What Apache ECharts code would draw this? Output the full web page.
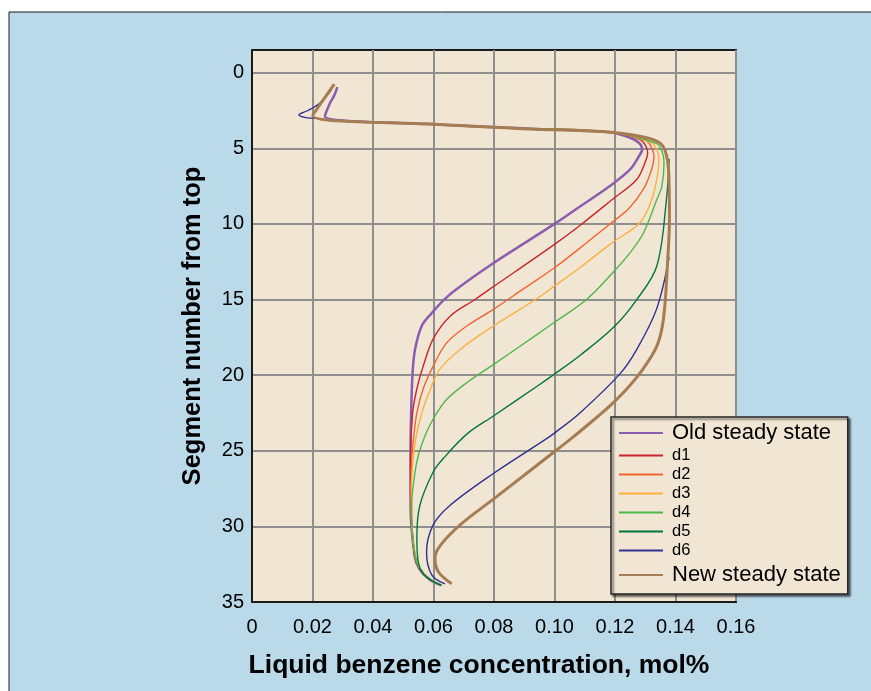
<!DOCTYPE html>
<html>
<head>
<meta charset="utf-8">
<title>Liquid benzene concentration profile</title>
<script src="https://cdn.jsdelivr.net/npm/echarts@6/dist/echarts.min.js"></script>
<style>
    html, body { margin: 0; padding: 0; background: #ffffff; }
    #profile_echart { width: 871px; height: 691px; }
</style>
</head>
<body>
<div id="profile_echart"></div>
<script>
// 曲线名称（图例顺序）
var seriesNames = ['Old steady state', 'd1', 'd2', 'd3', 'd4', 'd5', 'd6', 'New steady state'];
var seriesColors = ['#8b5db0', '#c9252c', '#f26430', '#fbb040', '#4db848', '#00773d', '#2e3092', '#a67c52'];

// 刻度
var xTicks = [0, 0.02, 0.04, 0.06, 0.08, 0.10, 0.12, 0.14, 0.16];
var yTicks = [0, 5, 10, 15, 20, 25, 30, 35];

// 每条曲线: 塔板序号(seg) 与 液相苯浓度(conc)
var oldSeg  = [0.95, 1.5, 2.0, 2.88, 3.43, 3.7, 3.94, 4.3, 4.65, 5.04, 5.6, 6.4, 7.5, 8.8, 10.0, 12.57, 14.3, 15.0, 15.9, 16.75, 18.3, 19.8, 22.5, 25.5, 28.5, 31.9, 32.8, 33.5, 33.9];
var oldConc = [0.0282, 0.0272, 0.0258, 0.0241, 0.062, 0.092, 0.1183, 0.125, 0.128, 0.129, 0.1277, 0.125, 0.1183, 0.1088, 0.100, 0.080, 0.0677, 0.0635, 0.0594, 0.0561, 0.0539, 0.0531, 0.0526, 0.0524, 0.0524, 0.0537, 0.0553, 0.0586, 0.0625];

var d1Seg  = [3.7, 3.94, 4.42, 4.86, 5.3, 5.96, 7.06, 8.4, 10.1, 11.35, 14.3, 15.0, 16.1, 17.6, 19.4, 20.9, 22.5, 25.5, 28.5, 31.9, 32.8, 33.5, 33.9];
var d1Conc = [0.092, 0.119, 0.1283, 0.1302, 0.1308, 0.1299, 0.1272, 0.1190, 0.1084, 0.100, 0.0787, 0.0737, 0.0655, 0.0599, 0.0566, 0.0545, 0.0531, 0.0524, 0.0525, 0.0537, 0.0553, 0.0586, 0.0625];

var d2Seg  = [3.7, 3.94, 4.53, 4.97, 5.52, 6.4, 7.7, 9.0, 9.9, 11.6, 12.9, 14.3, 15.65, 16.75, 17.85, 19.4, 20.9, 22.5, 24.2, 25.5, 28.6, 29.9, 31.9, 32.8, 33.5, 33.9];
var d2Conc = [0.092, 0.119, 0.1305, 0.1321, 0.1329, 0.1321, 0.1294, 0.1245, 0.1190, 0.1084, 0.100, 0.0897, 0.0798, 0.071, 0.0644, 0.0599, 0.0566, 0.0545, 0.0534, 0.0528, 0.0526, 0.0528, 0.0539, 0.0555, 0.0588, 0.0627];

var d3Seg  = [3.7, 3.94, 4.64, 5.19, 5.74, 6.84, 8.4, 9.9, 11.35, 12.9, 14.1, 14.9, 16.75, 18.3, 19.6, 20.7, 22.2, 23.8, 25.3, 27.5, 29.9, 31.9, 32.8, 33.5, 33.9];
var d3Conc = [0.092, 0.119, 0.1321, 0.134, 0.1345, 0.134, 0.1321, 0.1283, 0.1183, 0.1084, 0.100, 0.0945, 0.0798, 0.0688, 0.0621, 0.0594, 0.0566, 0.0545, 0.0534, 0.0527, 0.0528, 0.0539, 0.0555, 0.0588, 0.0627];

var d4Seg  = [3.7, 3.94, 4.69, 5.3, 5.96, 7.5, 8.4, 10.6, 11.9, 13.2, 15.0, 16.5, 17.2, 19.3, 20.5, 21.6, 22.9, 24.0, 25.3, 26.4, 28.6, 29.9, 31.9, 32.8, 33.5, 33.9];
var d4Conc = [0.092, 0.119, 0.1338, 0.1357, 0.1362, 0.1355, 0.1338, 0.1294, 0.125, 0.1194, 0.1106, 0.1000, 0.0950, 0.0798, 0.071, 0.0644, 0.0599, 0.0572, 0.055, 0.0539, 0.0528, 0.0528, 0.0539, 0.0555, 0.0588, 0.0627];

var d5Seg  = [5.7, 8.4, 12.8, 15.0, 16.8, 18.7, 19.9, 20.7, 22.7, 23.9, 25.5, 26.4, 28.6, 30.8, 32.4, 33.1, 33.6, 33.9];
var d5Conc = [0.1379, 0.137, 0.1338, 0.1272, 0.1197, 0.1084, 0.1002, 0.0945, 0.0798, 0.071, 0.0633, 0.0599, 0.0555, 0.0545, 0.055, 0.0565, 0.0595, 0.0627];

// '-' 表示断开（中间部分与新稳态曲线重合）
var d6Seg  = [1.12, 2.0, 2.5, 2.78, 2.97, 3.02, '-', 12.2, 15.6, 18.3, 19.9, 22.5, 23.8, 24.2, 26.5, 28.6, 29.9, 31.7, 33.2, 33.8];
var d6Conc = [0.0263, 0.0225, 0.0185, 0.0155, 0.0178, 0.0215, '-', 0.1379, 0.1338, 0.1272, 0.1217, 0.1084, 0.1002, 0.0974, 0.0798, 0.0655, 0.0599, 0.0577, 0.0594, 0.0638];

var newSeg  = [0.75, 1.78, 2.84, 3.43, 3.72, 3.83, 3.94, 4.3, 4.75, 5.74, 7.5, 9.6, 12.8, 16.3, 18.1, 19.8, 21.0, 22.0, 22.7, 24.2, 24.9, 28.2, 29.9, 31.3, 32.1, 33.0, 33.8];
var newConc = [0.0272, 0.0236, 0.0201, 0.062, 0.092, 0.1084, 0.119, 0.1305, 0.1354, 0.1373, 0.1379, 0.138, 0.1373, 0.136, 0.1338, 0.1285, 0.1235, 0.1185, 0.1145, 0.1055, 0.101, 0.0798, 0.0688, 0.0621, 0.0605, 0.0616, 0.066];

var segList  = [oldSeg, d1Seg, d2Seg, d3Seg, d4Seg, d5Seg, d6Seg, newSeg];
var concList = [oldConc, d1Conc, d2Conc, d3Conc, d4Conc, d5Conc, d6Conc, newConc];
var lineWidths = [2.5, 1.4, 1.4, 1.4, 1.4, 1.4, 1.4, 3];

window.onload = function () {
    DrawProfile();
};

function toPairs(seg, conc) {
    var arr = [];
    for (var i = 0; i < seg.length; i++) {
        arr.push([conc[i], seg[i]]);
    }
    return arr;
}

function DrawProfile() {
    var myChart = echarts.init(document.getElementById('profile_echart'));
    var fontName = "'Liberation Sans', Arial, Helvetica, sans-serif";

    var seriesData = [];
    for (var i = 0; i < seriesNames.length; i++) {
        seriesData.push({
            name: seriesNames[i],
            type: 'line',
            data: toPairs(segList[i], concList[i]),
            smooth: 0.35,
            symbol: 'none',
            connectNulls: false,
            lineStyle: { color: seriesColors[i], width: lineWidths[i] },
            itemStyle: { color: seriesColors[i] },
            z: 2 + i
        });
    }

    var Option = {
        animation: false,
        backgroundColor: '#ffffff',
        // 浅蓝色底板
        graphic: [{
            type: 'rect',
            z: -10,
            shape: { x: 9, y: 12, width: 900, height: 700 },
            style: { fill: '#badaea', stroke: '#1a1a1a', lineWidth: 1 }
        }],
        grid: {
            left: 252,
            right: 135,
            top: 50,
            bottom: 89,
            show: true,
            backgroundColor: '#f1e6d3',
            borderColor: '#1a1a1a',
            borderWidth: 2
        },
        legend: {
            orient: 'vertical',
            left: 611,
            top: 417,
            data: seriesNames,
            icon: 'rect',
            itemWidth: 44,
            itemHeight: 2,
            itemGap: 0,
            padding: [3, 7, 4, 8],
            backgroundColor: '#f1e6d3',
            borderColor: '#262626',
            borderWidth: 1.5,
            shadowColor: 'rgba(0,0,0,0.55)',
            shadowBlur: 2,
            shadowOffsetX: 2,
            shadowOffsetY: 2,
            // 末尾加一个零宽字符撑开各项高度
            formatter: function (name) {
                if (name === 'Old steady state') return '{old|' + name + '}{h26|\u200b}';
                if (name === 'New steady state') return '{old|' + name + '}{h30|\u200b}';
                return '{small|' + name + '}{h19|\u200b}';
            },
            textStyle: {
                fontFamily: fontName,
                color: '#000000',
                rich: {
                    old:   { fontSize: 22, padding: [0, 0, 0, 4], fontFamily: fontName, color: '#000' },
                    small: { fontSize: 16.5, padding: [0, 0, 0, 4], fontFamily: fontName, color: '#000' },
                    h19:   { fontSize: 19, fontFamily: fontName },
                    h26:   { fontSize: 26, fontFamily: fontName },
                    h30:   { fontSize: 30, fontFamily: fontName }
                }
            }
        },
        xAxis: {
            type: 'value',
            min: 0,
            max: 0.16,
            interval: 0.02,
            name: 'Liquid benzene concentration, mol%',
            nameLocation: 'middle',
            nameGap: 50,
            nameTextStyle: { fontFamily: fontName, fontSize: 26.5, fontWeight: 'bold', color: '#000', padding: [0, 30, 0, 0] },
            axisLine: { show: true, onZero: false, lineStyle: { color: '#1a1a1a', width: 2 } },
            axisTick: { show: false },
            axisLabel: {
                margin: 15,
                fontFamily: fontName,
                fontSize: 20,
                color: '#000',
                formatter: function (v) { return v === 0 ? '0' : v.toFixed(2); }
            },
            splitLine: { show: true, lineStyle: { color: '#8f8f8f', width: 2 } }
        },
        yAxis: {
            type: 'value',
            inverse: true,
            min: -1.5,
            max: 35,
            name: 'Segment number from top',
            nameLocation: 'middle',
            nameGap: 46,
            nameTextStyle: { fontFamily: fontName, fontSize: 25.5, fontWeight: 'bold', color: '#000' },
            axisLine: { show: true, onZero: false, lineStyle: { color: '#1a1a1a', width: 2 } },
            axisTick: { show: false, customValues: yTicks },
            axisLabel: {
                customValues: yTicks,
                margin: 8,
                fontFamily: fontName,
                fontSize: 20,
                color: '#000'
            },
            splitLine: { show: true, lineStyle: { color: '#8f8f8f', width: 2 } }
        },
        series: seriesData
    };

    myChart.setOption(Option);
}
</script>
</body>
</html>
